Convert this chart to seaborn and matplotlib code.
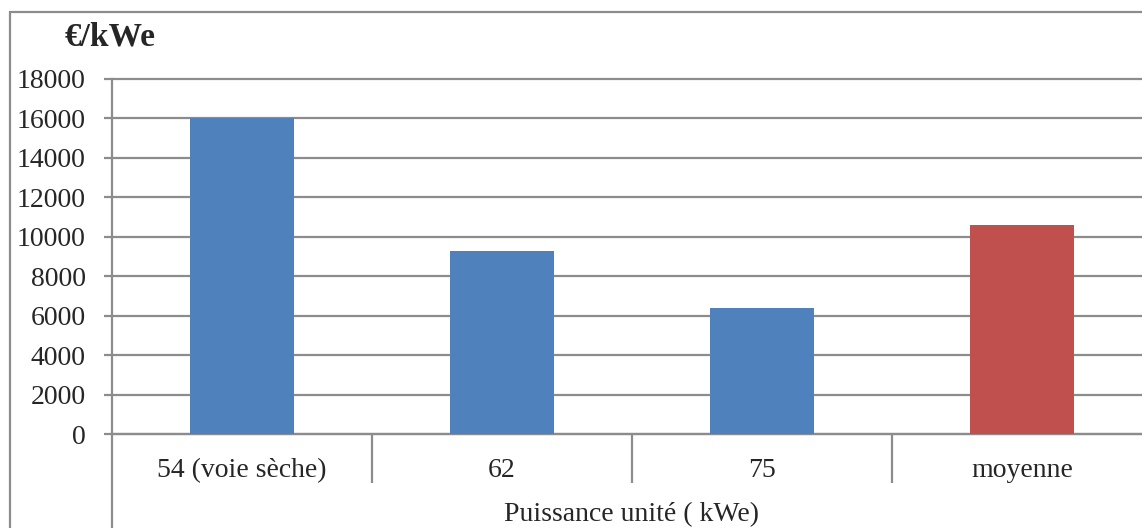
import matplotlib
matplotlib.use("Agg")
import matplotlib.pyplot as plt
import matplotlib.patches as mpatches
import pandas as pd
import seaborn as sns

# Data
categories = ["54 (voie sèche)", "62", "75", "moyenne"]
values = [16000, 9300, 6400, 10600]
bar_colors = ["#4F81BD", "#4F81BD", "#4F81BD", "#C0504D"]
y_ticks = list(range(0, 18001, 2000))

sns.set_style("white")
plt.rcParams["font.family"] = ["Liberation Serif", "DejaVu Serif"]

grey = "#8c8c8c"
W, H = 1142, 528
fig = plt.figure(figsize=(W / 100, H / 100), dpi=100)
ax = fig.add_axes([112 / W, (H - 434) / H, 1040 / W, (434 - 79) / H])

df = pd.DataFrame({"cat": categories, "val": values})
sns.barplot(data=df, x="cat", y="val", hue="cat", palette=bar_colors,
            width=0.4, saturation=1, legend=False, ax=ax, zorder=3,
            linewidth=0)

ax.set_xlim(-0.5, len(categories) - 0.5)
ax.set_ylim(0, 18000)
ax.set_yticks(y_ticks)
ax.set_yticklabels([str(v) for v in y_ticks])
ax.grid(axis="y", color=grey, lw=1.6, zorder=0)
ax.grid(axis="x", visible=False)
for gl in ax.get_ygridlines():
    gl.set_clip_on(False)

for side in ["top", "right"]:
    ax.spines[side].set_visible(False)
for side in ["left", "bottom"]:
    ax.spines[side].set_color(grey)
    ax.spines[side].set_linewidth(1.6)

# y ticks
ax.tick_params(axis="y", which="major", length=6, width=1.6, color=grey,
               direction="out", pad=13, labelsize=20, left=True)
# category separators via minor ticks
ax.set_xticks([i + 0.5 for i in range(len(categories) - 1)], minor=True)
ax.tick_params(axis="x", which="minor", length=35, width=1.6, color=grey,
               direction="out", bottom=True)
ax.tick_params(axis="x", which="major", length=0, pad=17, labelsize=20)

# extend the left axis line down around the axis title box
ax.plot([-0.5, -0.5], [0, -0.3], color=grey, lw=1.6,
        transform=ax.get_xaxis_transform(), clip_on=False)

ax.set_ylabel("")
ax.set_xlabel("Puissance unité ( kWe)", fontsize=20, va="baseline")
ax.xaxis.set_label_coords(0.5, -(521 - 434) / (434 - 79))

fig.text(65 / W, 1 - 45 / H, "€/kWe", fontsize=24, fontweight="bold",
         ha="left", va="baseline")

# outer chart border (cropped at right and bottom)
fig.patches.append(mpatches.Rectangle((10 / W, -0.2), 2, 1 - 12 / H + 0.2,
                                      transform=fig.transFigure, fill=False,
                                      edgecolor=grey, lw=1.6))

fig.savefig("out.png", dpi=100)
